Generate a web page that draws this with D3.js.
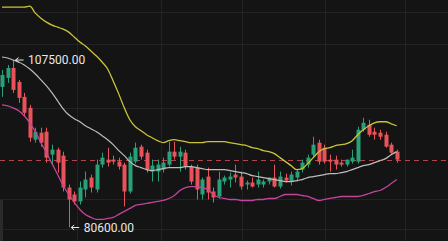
<!DOCTYPE html>
<html>
<head>
<meta charset="utf-8">
<script src="https://cdn.jsdelivr.net/npm/d3@7"></script>
<style>
  html, body { margin: 0; padding: 0; background: #141414; overflow: hidden; }
  svg { display: block; }
  .label { font-family: Roboto, "Noto Sans", sans-serif; font-size: 12px; fill: #e8e8e8; }
</style>
</head>
<body>
<svg id="chart" width="448" height="241"></svg>
<script>
// OHLC per candle
const opens = [103180,104620,106220,103980,101580,99820,94700,95820,95980,92300,
  93100,92140,87020,85900,84780,86700,88620,86700,90700,91500,
  91500,91180,90700,86380,91180,93580,92620,89580,89580,89900,
  90700,92780,91980,92620,90380,90220,85900,88780,86380,85580,
  87980,88300,89100,88780,87500,87820,87500,87500,87980,88620,
  87180,88620,87980,88620,89900,90700,92300,94220,93420,91500,
  91500,91020,90700,91180,91180,96300,97100,95980,95820,95500,
  93900,92780];
const highs = [105900,106700,107500,104300,102220,100300,96620,96620,96620,93900,
  93420,92780,87500,86380,87980,89580,89100,91500,92620,93420,
  92140,91820,91020,92620,94220,93900,93100,91500,91500,91820,
  94380,94380,93580,93100,90700,90700,88620,90220,87020,89580,
  88940,89420,90700,89580,88140,88620,89580,88300,88620,90700,
  89580,89260,89580,89900,91500,92300,95180,94700,93900,92300,
  92140,91500,91500,93100,96780,98220,97900,96620,96300,95980,
  94220,93100];
const lows = [101580,103820,102220,100620,98380,94380,94220,93580,91020,90700,
  89420,86380,80600,84300,84300,85420,86220,86220,90220,90380,
  90700,89900,83980,86060,90860,91500,89420,87980,87980,89420,
  90380,91500,89580,89900,87500,85100,85100,85100,84620,85260,
  87500,87020,87820,86700,86700,87020,87020,87020,87500,87020,
  86860,87820,87340,87980,89420,90220,91820,90700,90860,89580,
  89900,90380,90380,90860,90860,95980,95180,94700,94700,93420,
  92300,91020];
const closes = [105100,106220,102700,101420,99020,95020,95980,94220,91820,93100,
  91020,87020,85100,84780,87020,88300,87020,90700,91820,91020,
  91180,90380,86380,91980,93420,91980,89900,90540,90700,91020,
  92780,91980,92780,90380,87980,86700,88300,86220,85420,88300,
  88620,88780,88620,87180,87820,87180,88300,87980,88620,87180,
  88780,88140,89100,89580,91020,91820,93900,91180,91180,91180,
  90700,90700,91500,91820,96300,97420,95500,95500,95180,93580,
  92620,91500];

// Bollinger bands
const upperBand = [115980,115980,115980,115980,115980,116140,115020,114220,113580,113100,
  112780,112460,111980,111180,110380,109740,108940,108140,107180,106060,
  104140,102060,99820,97900,96780,96140,95500,95020,94540,94220,
  94540,94700,94540,94380,94220,94220,94220,94380,94380,94380,
  94380,94220,94060,93900,93740,93420,93260,92940,92780,92460,
  91820,91180,90540,89900,90060,90860,91820,92780,93260,93420,
  93740,93900,94060,94540,95500,96300,96940,97420,97580,97580,
  97260,96940];
const middleBand = [107980,107820,107500,107180,106700,106060,105260,104300,103340,102220,
  100940,99660,98700,98060,97580,96940,96460,95980,95340,94700,
  93900,92940,92140,91180,90540,90220,89900,89740,89900,90060,
  90220,90220,90220,90380,90380,90220,90060,89900,89900,89900,
  89900,89740,89580,89420,89260,88940,88780,88620,88460,88300,
  88140,87980,87980,88140,88300,88620,88780,88940,89100,89260,
  89260,89420,89580,89900,90220,90540,90700,91020,91340,91660,
  92300,92780];
const lowerBand = [100300,100140,99820,99340,98540,97420,95980,94220,92620,90860,
  89100,87340,85900,84620,83500,82700,82220,81900,81900,82060,
  82220,82700,83180,83660,84140,84300,84460,84620,84780,84940,
  85260,85740,86540,87020,87180,87180,87020,86700,85900,85420,
  85260,85100,85100,84940,84940,84940,85100,85100,85260,85260,
  85580,85900,85900,85900,85740,85580,85260,84940,85100,85260,
  85420,85580,85580,85580,85580,85740,86060,86380,86540,87020,
  87660,88300];

// grid positions
const gridPrices = [115180, 110060, 99820, 85100, 80300];
const gridSlots = [13.5, 28.6, 43.2, 58.1, 72.5];

// marked extremes
const markHigh = { index: 2, price: 107500 };
const markLow = { index: 12, price: 80600 };

const width = 448, height = 241;
const up = "#26a17a", down = "#e8535a";

const svg = d3.select("#chart");
const candles = opens.map((o, i) => ({ i, o, h: highs[i], l: lows[i], c: closes[i] }));

const x = d3.scaleLinear().domain([0, candles.length - 1]).range([2, 396.7]);
const y = d3.scaleLinear().domain([80600, 107500]).range([227.5, 60]);
const bodyW = 4;

// grid
const grid = svg.append("g").attr("stroke", "#232323").attr("stroke-width", 1);
grid.selectAll("line.h").data(gridPrices).enter().append("line")
  .attr("x1", 0).attr("x2", width)
  .attr("y1", d => Math.round(y(d)) + 0.5).attr("y2", d => Math.round(y(d)) + 0.5);
grid.selectAll("line.v").data(gridSlots).enter().append("line")
  .attr("y1", 0).attr("y2", height)
  .attr("x1", d => Math.round(x(d)) + 0.5).attr("x2", d => Math.round(x(d)) + 0.5);

svg.append("rect").attr("x", 0).attr("y", 200).attr("width", 3).attr("height", 41).attr("fill", "#2a2a2a");

// last price line
const last = closes[closes.length - 1];
svg.append("line")
  .attr("x1", 0).attr("x2", width)
  .attr("y1", Math.round(y(last)) + 0.5).attr("y2", Math.round(y(last)) + 0.5)
  .attr("stroke", "#b3444b").attr("stroke-width", 1).attr("stroke-dasharray", "5,4");

// candles
const cg = svg.append("g").selectAll("g").data(candles).enter().append("g")
  .attr("fill", d => d.c >= d.o ? up : down)
  .attr("stroke", d => d.c >= d.o ? up : down);

cg.append("line")
  .attr("x1", d => Math.round(x(d.i)) + 0.5).attr("x2", d => Math.round(x(d.i)) + 0.5)
  .attr("y1", d => y(d.h)).attr("y2", d => y(d.l))
  .attr("stroke-width", 1);

cg.append("rect")
  .attr("stroke", "none")
  .attr("x", d => Math.round(x(d.i)) + 0.5 - bodyW / 2)
  .attr("width", bodyW)
  .attr("y", d => y(Math.max(d.o, d.c)))
  .attr("height", d => Math.max(1, Math.abs(y(d.o) - y(d.c))));

// bands
const bandLine = d3.line().x((d, i) => x(i)).y(d => y(d)).curve(d3.curveMonotoneX);
[[upperBand, "#c9c43a", 1.3], [middleBand, "#bdbdbd", 1.2], [lowerBand, "#c2449b", 1.3]]
  .forEach(([data, col, w]) => {
    svg.append("path").datum(data)
      .attr("fill", "none").attr("stroke", col).attr("stroke-width", w)
      .attr("d", bandLine);
  });

// extreme labels
function mark(m) {
  const px = x(m.index), py = y(m.price);
  svg.append("path")
    .attr("d", `M${px + 2.5},${py} h8 M${px + 2.5},${py} l3,-2.5 M${px + 2.5},${py} l3,2.5`)
    .attr("fill", "none").attr("stroke", "#e8e8e8").attr("stroke-width", 1);
  svg.append("text").attr("class", "label")
    .attr("x", px + 15).attr("y", py + 4)
    .text(d3.format(".2f")(m.price));
}
mark(markHigh);
mark(markLow);
</script>
</body>
</html>
